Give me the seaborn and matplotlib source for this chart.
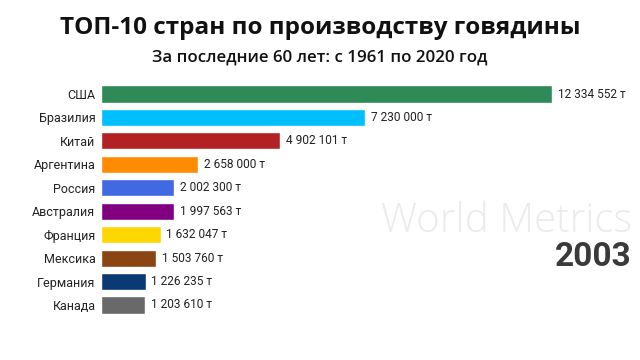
import matplotlib
matplotlib.use("Agg")
import matplotlib.pyplot as plt
import seaborn as sns
import pandas as pd

countries = ["США", "Бразилия", "Китай", "Аргентина", "Россия", "Австралия",
             "Франция", "Мексика", "Германия", "Канада"]
values = [12334552, 7230000, 4902101, 2658000, 2002300, 1997563,
          1632047, 1503760, 1226235, 1203610]
colors = ["#2e8b57", "#00bfff", "#b22222", "#ff8c00", "#4169e1", "#800080",
          "#ffd700", "#8b4513", "#0b3a73", "#696969"]
title = "ТОП-10 стран по производству говядины"
subtitle = "За последние 60 лет: с 1961 по 2020 год"
year = "2003"
watermark = "World Metrics"

sns.set_theme(style="white")
plt.rcParams['font.family'] = ['Roboto', 'DejaVu Sans']

df = pd.DataFrame({"country": countries, "value": values})

fig = plt.figure(figsize=(6.4, 3.6), dpi=100)
ax = fig.add_axes([101/640, 1 - 316.7/360, 539/640, (316.7 - 82.3)/360])
sns.barplot(data=df, y="country", x="value", hue="country",
            palette=dict(zip(countries, colors)), legend=False,
            orient="h", width=0.73, ax=ax, saturation=1)
ax.set_xlim(0, 12334552 * 539 / 451)
ax.set_ylim(9.5, -0.5)
ax.set_xlabel("")
ax.set_ylabel("")
ax.set_xticks([])
for s in ax.spines.values():
    s.set_visible(False)
ax.tick_params(axis="y", length=0, pad=4, labelsize=9, colors="#222222")

def fmt(v):
    return f"{v:,}".replace(",", " ") + " т"

for i, v in enumerate(values):
    ax.annotate(fmt(v), (v, i), xytext=(4, 0), textcoords="offset points",
                va="center", ha="left", fontsize=8.6, color="#222222")

fig.text(0.5, 1 - 28/360, title, ha="center", va="center", fontsize=17.5,
         fontweight="bold", family=["Open Sans", "DejaVu Sans"], color="#111111")
fig.text(0.5, 1 - 58/360, subtitle, ha="center", va="center", fontsize=12.2,
         fontweight="semibold", family=["Open Sans", "DejaVu Sans"], color="#111111")
fig.text(632/640, 1 - 222/360, watermark, ha="right", va="center", fontsize=29,
         family=["Open Sans", "DejaVu Sans"], fontweight="light", color="#ebebeb")
fig.text(632/640, 1 - 257/360, year, ha="right", va="center", fontsize=24,
         fontweight="bold", color="#3a3a3a")

fig.savefig("out.png", dpi=100)
